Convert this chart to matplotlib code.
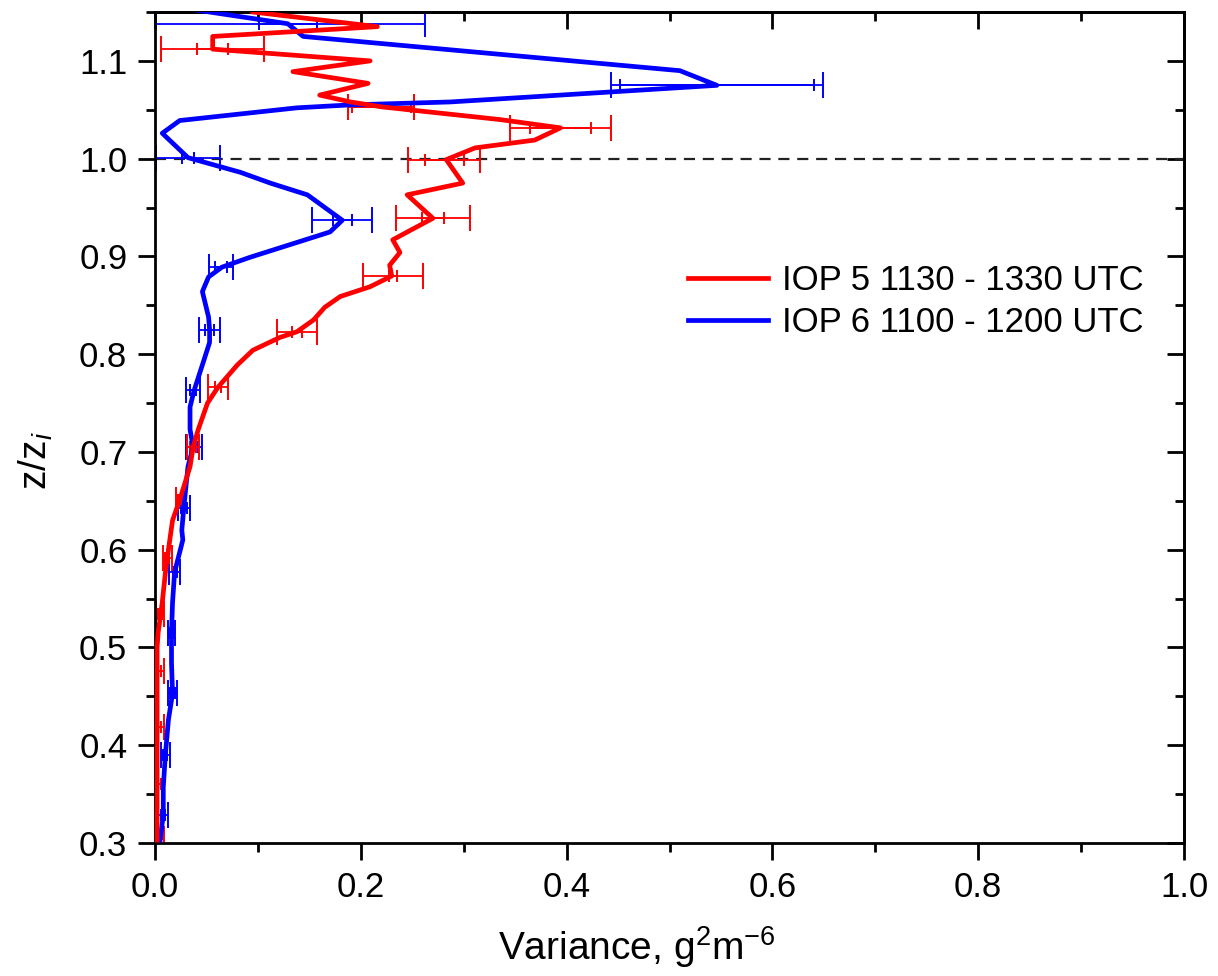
import numpy as np
import matplotlib
matplotlib.use("Agg")
import matplotlib.pyplot as plt
from matplotlib.ticker import MultipleLocator, FormatStrFormatter

# ====================================
# DATA
# ====================================

# IOP 5 profile (red)
iop5_var = [0.095, 0.216, 0.056, 0.056, 0.209, 0.134, 0.207, 0.160, 0.190, 0.220,
            0.335, 0.394, 0.369, 0.311, 0.283, 0.299, 0.245, 0.270, 0.231, 0.238,
            0.228, 0.230, 0.209, 0.180, 0.165, 0.154, 0.138, 0.121, 0.095, 0.080,
            0.061, 0.051, 0.042, 0.037, 0.034, 0.024, 0.017, 0.013, 0.010, 0.007,
            0.003, 0.002, 0.002]
iop5_z = [1.150, 1.135, 1.125, 1.112, 1.100, 1.089, 1.077, 1.065, 1.058, 1.053,
          1.040, 1.0315, 1.019, 1.011, 0.999, 0.975, 0.963, 0.939, 0.917, 0.904,
          0.891, 0.880, 0.869, 0.859, 0.848, 0.835, 0.823, 0.817, 0.804, 0.789,
          0.766, 0.750, 0.723, 0.705, 0.685, 0.651, 0.630, 0.600, 0.576, 0.546,
          0.515, 0.500, 0.303]

# IOP 5 error bars
iop5_err_z = [1.112, 1.053, 1.0315, 0.999, 0.939, 0.880, 0.823, 0.766, 0.705,
              0.651, 0.592, 0.534, 0.476, 0.419, 0.360, 0.304]
iop5_err_x = [0.056, 0.220, 0.394, 0.281, 0.270, 0.231, 0.138, 0.061, 0.037,
              0.024, 0.012, 0.005, 0.004, 0.004, 0.004, 0.004]
iop5_err_out = [0.050, 0.032, 0.049, 0.035, 0.036, 0.029, 0.019, 0.010, 0.006,
                0.004, 0.004, 0.004, 0.005, 0.005, 0.005, 0.005]
iop5_err_in = [0.015, 0.029, 0.030, 0.019, 0.011, 0.004, 0.005, 0.003, 0.003,
               0.002, 0.002, 0.002, 0.002, 0.002, 0.002, 0.002]

# IOP 6 profile (blue)
iop6_var = [0.040, 0.129, 0.144, 0.510, 0.546, 0.287, 0.190, 0.138, 0.024, 0.007,
            0.027, 0.032, 0.083, 0.112, 0.148, 0.182, 0.170, 0.092, 0.065, 0.052,
            0.046, 0.052, 0.053, 0.053, 0.046, 0.038, 0.034, 0.034, 0.037, 0.032,
            0.029, 0.028, 0.026, 0.027, 0.019, 0.017, 0.016, 0.016, 0.017, 0.013,
            0.010, 0.008, 0.008, 0.005]
iop6_z = [1.152, 1.138, 1.125, 1.090, 1.075, 1.058, 1.055, 1.052, 1.039, 1.026,
          1.006, 1.001, 0.986, 0.975, 0.963, 0.937, 0.925, 0.899, 0.889, 0.879,
          0.864, 0.838, 0.825, 0.812, 0.789, 0.763, 0.746, 0.723, 0.705, 0.685,
          0.654, 0.643, 0.620, 0.610, 0.577, 0.546, 0.515, 0.484, 0.453, 0.426,
          0.390, 0.357, 0.329, 0.303]

# IOP 6 error bars
iop6_err_z = [1.138, 1.075, 1.001, 0.937, 0.889, 0.825, 0.763, 0.705, 0.643,
              0.577, 0.515, 0.453, 0.390, 0.329]
iop6_err_x = [0.129, 0.546, 0.032, 0.182, 0.064, 0.053, 0.037, 0.038, 0.028,
              0.019, 0.016, 0.017, 0.010, 0.008]
iop6_err_out = [0.133, 0.103, 0.031, 0.029, 0.012, 0.010, 0.007, 0.008, 0.006,
                0.005, 0.0035, 0.004, 0.0045, 0.005]
iop6_err_in = [0.028, 0.094, 0.006, 0.009, 0.006, 0.004, 0.003, 0.003, 0.003,
               0.002, 0.002, 0.002, 0.002, 0.002]

labels = ["IOP 5 1130 - 1330 UTC", "IOP 6 1100 - 1200 UTC"]

# ====================================
# STYLE
# ====================================

plt.rcParams["font.family"] = ["Liberation Sans", "DejaVu Sans"]
plt.rcParams["mathtext.fontset"] = "custom"
plt.rcParams["mathtext.rm"] = "Liberation Sans"
plt.rcParams["mathtext.it"] = "Liberation Sans:italic"
plt.rcParams["axes.unicode_minus"] = False

fig = plt.figure(figsize=(12.18, 9.76), dpi=100)
ax = fig.add_axes([0.1273, 0.1363, 0.8448, 0.8514])

# ====================================
# PLOT
# ====================================

series = [
    (iop6_var, iop6_z, iop6_err_x, iop6_err_z, iop6_err_out, iop6_err_in, "#0000ff", labels[1]),
    (iop5_var, iop5_z, iop5_err_x, iop5_err_z, iop5_err_out, iop5_err_in, "#ff0000", labels[0]),
]

handles = {}
for xv, zv, ex, ez, eo, ei, col, lab in series:
    line, = ax.plot(xv, zv, color=col, lw=3.4, label=lab, zorder=3)
    handles[lab] = line
    ax.errorbar(ex, ez, xerr=eo, fmt="none", ecolor=col, elinewidth=1.3,
                capsize=9.5, capthick=1.4, zorder=2)
    ax.errorbar(ex, ez, xerr=ei, fmt="none", ecolor=col, elinewidth=1.3,
                capsize=4, capthick=1.4, zorder=2)

ax.axhline(1.0, color="#222222", lw=1.6, ls=(0, (5, 3.5)), zorder=1)

ax.set_xlim(0, 1.0)
ax.set_ylim(0.3, 1.15)

ax.xaxis.set_major_locator(MultipleLocator(0.2))
ax.xaxis.set_minor_locator(MultipleLocator(0.1))
ax.yaxis.set_major_locator(MultipleLocator(0.1))
ax.yaxis.set_minor_locator(MultipleLocator(0.05))
ax.xaxis.set_major_formatter(FormatStrFormatter("%.1f"))
ax.yaxis.set_major_formatter(FormatStrFormatter("%.1f"))

for s in ax.spines.values():
    s.set_linewidth(2)

ax.tick_params(axis="both", which="both", labelsize=25, width=2, pad=8)
ax.tick_params(which="major", length=12)
ax.tick_params(which="minor", length=6.5)
ax.tick_params(axis="x", which="both", direction="out", top=False)
ax.tick_params(axis="y", which="both", direction="out", right=False)

# inward ticks on top and right
sec_x = ax.secondary_xaxis("top")
sec_x.xaxis.set_major_locator(MultipleLocator(0.2))
sec_x.xaxis.set_minor_locator(MultipleLocator(0.1))
sec_x.tick_params(which="both", direction="in", labeltop=False, width=2)
sec_x.tick_params(which="major", length=12)
sec_x.tick_params(which="minor", length=6.5)
sec_x.spines["top"].set_linewidth(2)

sec_y = ax.secondary_yaxis("right")
sec_y.yaxis.set_major_locator(MultipleLocator(0.1))
sec_y.yaxis.set_minor_locator(MultipleLocator(0.05))
sec_y.tick_params(which="both", direction="in", labelright=False, width=2)
sec_y.tick_params(which="major", length=12)
sec_y.tick_params(which="minor", length=6.5)
sec_y.spines["right"].set_linewidth(2)

ax.set_xlabel(r"Variance, g$^{2}$m$^{-6}$", fontsize=28)
ax.set_ylabel(r"z/z$_{i}$", fontsize=28)
ax.xaxis.set_label_coords(0.468, -0.098)
ax.yaxis.set_label_coords(-0.097, 0.46)

ax.legend([handles[labels[0]], handles[labels[1]]], labels,
          loc="upper left", bbox_to_anchor=(0.518, 0.697), frameon=False,
          fontsize=25, handlelength=2.3, handletextpad=0.4, labelspacing=0.27,
          borderpad=0, borderaxespad=0)

plt.savefig("out.png", dpi=100)
